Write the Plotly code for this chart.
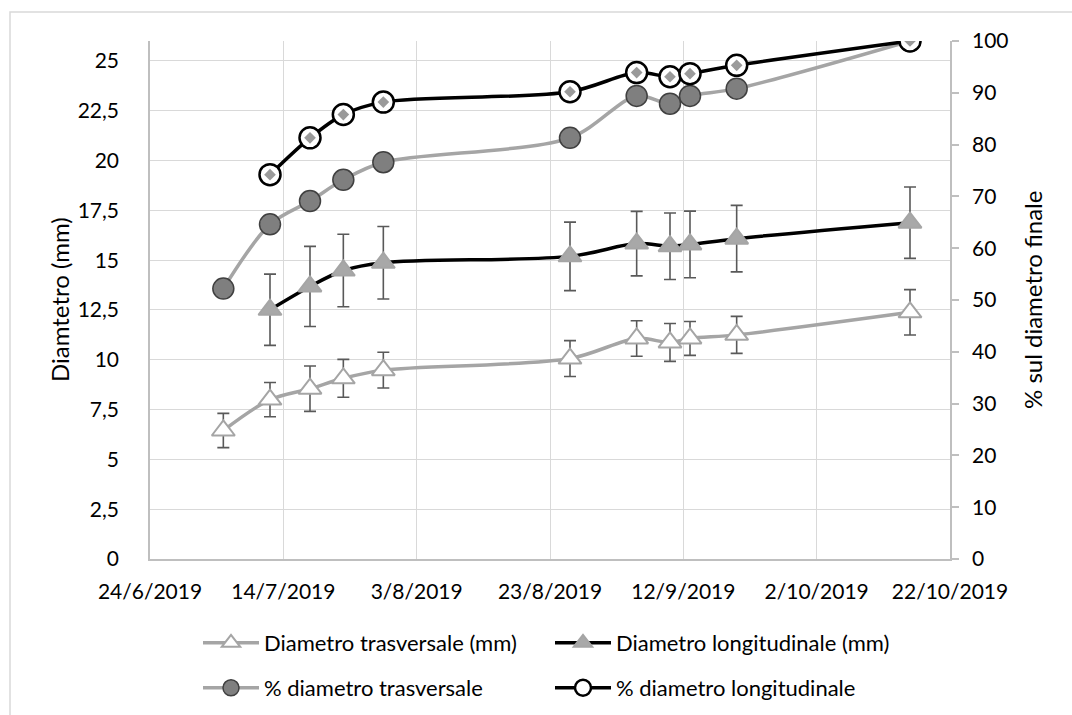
import plotly.graph_objects as go

# Sampling dates
dates_tr = ["2019-07-05", "2019-07-12", "2019-07-18", "2019-07-23", "2019-07-29",
            "2019-08-26", "2019-09-05", "2019-09-10", "2019-09-13", "2019-09-20",
            "2019-10-16"]
dates_lo = ["2019-07-12", "2019-07-18", "2019-07-23", "2019-07-29",
            "2019-08-26", "2019-09-05", "2019-09-10", "2019-09-13", "2019-09-20",
            "2019-10-16"]

# Diameters (mm) with standard deviation
trasv = [6.45, 8.0, 8.55, 9.07, 9.48, 10.06, 11.07, 10.87, 11.07, 11.25, 12.38]
trasv_err = [0.86, 0.86, 1.14, 0.95, 0.9, 0.9, 0.89, 0.95, 0.85, 0.93, 1.14]
longit = [12.51, 13.68, 14.48, 14.87, 15.19, 15.83, 15.70, 15.79, 16.08, 16.88]
longit_err = [1.79, 2.01, 1.82, 1.82, 1.72, 1.62, 1.67, 1.67, 1.67, 1.79]

# Percent of final diameter
pct_tr = [52.2, 64.6, 69.1, 73.2, 76.6, 81.3, 89.4, 87.9, 89.4, 90.8, 100]
pct_lo = [74.2, 81.3, 85.8, 88.2, 90.2, 93.9, 93.1, 93.7, 95.3, 100]

x_ticks_start = "2019-06-24"
x_range = ["2019-06-24", "2019-10-22"]

FONT = "Lato, 'Open Sans', sans-serif"
FS = 21
FS_LEG = 22
FS_TITLE = 24
GRAY_LINE = "#a5a5a5"
ERR = "#595959"
GRID = "#d9d9d9"
AXIS = "#bfbfbf"

fig = go.Figure()

fig.add_trace(go.Scatter(
    x=dates_tr, y=trasv, name="Diametro trasversale (mm)",
    mode="lines+markers", legend="legend",
    line=dict(color=GRAY_LINE, width=3.5, shape="spline", smoothing=0.9),
    marker=dict(symbol="triangle-up", size=20, color="white",
                line=dict(color=GRAY_LINE, width=2)),
    error_y=dict(type="data", array=trasv_err, color=ERR, thickness=1.6, width=6),
))

fig.add_trace(go.Scatter(
    x=dates_lo, y=longit, name="Diametro longitudinale (mm)",
    mode="lines+markers", legend="legend",
    line=dict(color="black", width=3.5, shape="spline", smoothing=0.9),
    marker=dict(symbol="triangle-up", size=20, color="#a8a8a8",
                line=dict(color=GRAY_LINE, width=2)),
    error_y=dict(type="data", array=longit_err, color=ERR, thickness=1.6, width=6),
))

fig.add_trace(go.Scatter(
    x=dates_tr, y=pct_tr, name="% diametro trasversale",
    mode="lines+markers", yaxis="y2", legend="legend2",
    line=dict(color=GRAY_LINE, width=3.5, shape="spline", smoothing=0.9),
    marker=dict(symbol="circle", size=21, color="#7f7f7f",
                line=dict(color="#404040", width=1.5)),
))

fig.add_trace(go.Scatter(
    x=dates_lo, y=pct_lo, name="% diametro longitudinale",
    mode="lines+markers", yaxis="y2", legend="legend2",
    line=dict(color="black", width=3.5, shape="spline", smoothing=0.9),
    marker=dict(symbol="circle", size=21, color="white",
                line=dict(color="black", width=2.5)),
))

# pattern detail inside the open circles
fig.add_trace(go.Scatter(
    x=dates_lo, y=pct_lo, mode="markers", yaxis="y2", showlegend=False,
    marker=dict(symbol="diamond", size=9, color="#9a9a9a"),
    hoverinfo="skip",
))

# margins put the plot area at x 150..950, y 41..559
L, R, T, B = 150, 122, 41, 156
W, H = 1072, 715
pw, ph = W - L - R, H - T - B


def px_x(px):
    return (px - L) / pw


def px_y(py):
    return (H - B - py) / ph


legend_common = dict(
    orientation="h", xanchor="left", yanchor="middle",
    xref="container", yref="container",
    entrywidth=281, entrywidthmode="pixels", itemwidth=56,
    font=dict(family=FONT, size=FS_LEG), bgcolor="rgba(0,0,0,0)",
)

fig.update_layout(
    width=W, height=H,
    margin=dict(l=L, r=R, t=T, b=B, autoexpand=False),
    paper_bgcolor="white", plot_bgcolor="white",
    separators=",.",
    font=dict(family=FONT, size=FS, color="black"),
    xaxis=dict(
        type="date", range=x_range, tickmode="linear",
        tick0=x_ticks_start, dtick=20 * 86400000,
        tickformat="%-d/%-m/%Y",
        showgrid=True, gridcolor=GRID, gridwidth=1.3,
        showline=True, linecolor=AXIS, linewidth=1.6,
        ticks="", ticklabelstandoff=13, zeroline=False,
    ),
    yaxis=dict(
        range=[0, 26], tick0=0, dtick=2.5,
        showgrid=True, gridcolor=GRID, gridwidth=1.3,
        showline=True, linecolor=AXIS, linewidth=1.6,
        ticks="", ticklabelstandoff=25, zeroline=False,
    ),
    yaxis2=dict(
        range=[0, 100], tick0=0, dtick=10, overlaying="y", side="right",
        showgrid=False, showline=True, linecolor=AXIS, linewidth=1.6,
        ticks="outside", ticklen=7, tickcolor=AXIS, tickwidth=1.6,
        ticklabelstandoff=9, zeroline=False,
    ),
    legend=dict(x=198 / W, y=1 - 643 / H, **legend_common),
    legend2=dict(x=198 / W, y=1 - 688 / H, **legend_common),
    showlegend=True,
    annotations=[
        dict(text="Diamtetro (mm)", textangle=-90, xref="paper", yref="paper",
             x=px_x(59), y=0.5, xanchor="center", yanchor="middle",
             showarrow=False, font=dict(family=FONT, size=FS_TITLE)),
        dict(text="% sul diametro finale", textangle=-90, xref="paper", yref="paper",
             x=px_x(1032), y=0.5, xanchor="center", yanchor="middle",
             showarrow=False, font=dict(family=FONT, size=FS_TITLE)),
    ],
    shapes=[
        dict(type="rect", xref="paper", yref="paper",
             x0=px_x(10), x1=px_x(1085), y0=px_y(730), y1=px_y(12),
             line=dict(color=GRID, width=1.5), fillcolor="rgba(0,0,0,0)",
             layer="below"),
    ],
)

fig.write_html("out.html")
